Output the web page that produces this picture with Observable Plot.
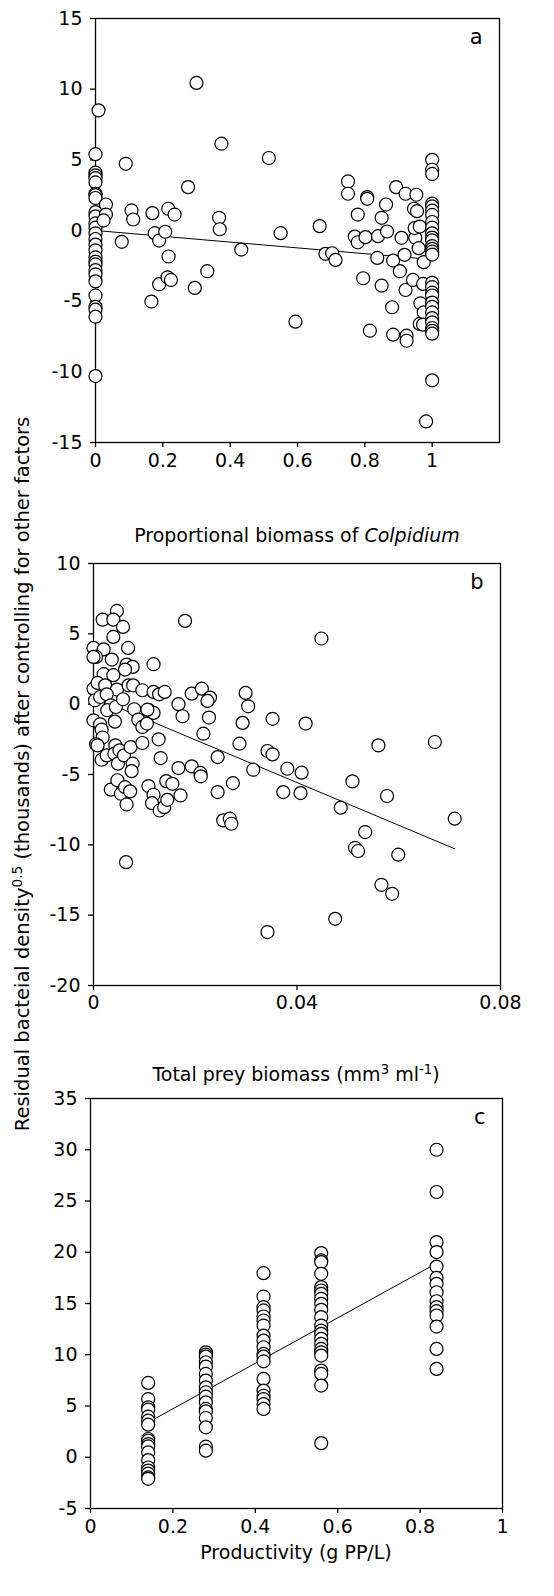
<!DOCTYPE html>
<html><head><meta charset="utf-8">
<script src="https://cdn.jsdelivr.net/npm/d3@7"></script>
<script src="https://cdn.jsdelivr.net/npm/@observablehq/plot@0.6"></script>
<style>
body{margin:0;background:#fff;}
#root{position:relative;width:554px;height:1596px;font-family:"DejaVu Sans",sans-serif;color:#000;overflow:hidden;}
.panel{position:absolute;left:0;}
.xlab{position:absolute;font-size:19px;line-height:1;white-space:nowrap;transform:translateX(-50%);}
.ylab{position:absolute;font-size:19.5px;line-height:1;white-space:nowrap;transform:translate(-50%,-50%) rotate(-90deg);}
sup{font-size:0.7em;line-height:0;vertical-align:0.5em;}
</style></head>
<body><div id="root"></div>
<script>
// ---------- Panel a: proportional biomass of Colpidium ----------
const aCol0Y = [5.4,4.1,3.9,3.7,3.4,2.6,2.5,2.3,1.3,1.0,0.5,0.2,-0.2,-0.6,-1.0,-1.4,-1.9,-2.2,-2.4,-2.8,-3.1,-3.6,-4.6,-5.4,-5.6,-6.1,-10.3];
const aCol1Y = [5.0,4.3,4.0,1.9,1.7,1.4,1.1,0.6,0.2,-0.2,-0.5,-0.7,-1.1,-1.3,-1.5,-1.7,-3.7,-4.0,-4.4,-4.6,-5.1,-5.4,-5.8,-6.2,-6.5,-6.9,-7.1,-7.3,-10.6];
const aScatter = [[0.009,8.5],[0.09,4.72],[0.031,1.84],[0.031,1.13],[0.024,0.71],[0.107,1.42],[0.112,0.78],[0.078,-0.8],[0.169,1.23],[0.176,-0.19],[0.189,-0.71],[0.207,-0.09],[0.216,1.54],[0.235,1.13],[0.217,-1.84],[0.189,-3.8],[0.214,-3.31],[0.224,-3.5],[0.166,-5.03],[0.275,3.07],[0.30,10.44],[0.295,-4.06],[0.332,-2.88],[0.367,0.9],[0.369,0.09],[0.374,6.14],[0.433,-1.35],[0.515,5.13],[0.55,-0.19],[0.594,-6.45],[0.666,0.31],[0.683,-1.65],[0.703,-1.61],[0.713,-2.08],[0.75,3.47],[0.75,2.6],[0.77,-0.43],[0.779,1.13],[0.779,-0.83],[0.802,-0.47],[0.807,2.36],[0.807,2.24],[0.795,-3.38],[0.815,-7.09],[0.839,-0.4],[0.837,-1.94],[0.85,0.9],[0.863,1.84],[0.866,-0.07],[0.85,-3.9],[0.881,-5.43],[0.884,-2.13],[0.884,-7.37],[0.893,3.07],[0.909,-0.52],[0.904,-2.88],[0.918,-1.72],[0.921,-4.21],[0.924,-7.44],[0.924,-7.8],[0.921,2.6],[0.943,-3.5],[0.946,1.54],[0.95,-0.52],[0.953,2.53],[0.955,1.37],[0.948,0.17],[0.96,-1.25],[0.963,0.28],[0.965,-5.15],[0.963,-6.61],[0.973,-3.78],[0.975,-5.79],[0.973,-6.66],[0.975,-2.24],[0.982,-13.51]];
const aLine = [[0,0],[1,-2.05]];
const aXTicks = [0,0.2,0.4,0.6,0.8,1];
const aYTicks = [-15,-10,-5,0,5,10,15];

// ---------- Panel b: total prey biomass ----------
const bScatter = [[0.0046,6.63],[0.0018,6.01],[0.0039,6.01],[0.0058,5.49],[0.0039,4.78],[0.018,5.92],[0.0448,4.67],[0.0,4.0],[0.002,3.9],[0.0005,3.36],[0.0,3.36],[0.0036,3.17],[0.0068,4.0],[0.0065,2.81],[0.0077,2.65],[0.0062,2.46],[0.0118,2.84],[0.002,2.13],[0.0039,2.06],[0.0,1.1],[0.0008,1.51],[0.0023,1.34],[0.0046,1.04],[0.0069,1.34],[0.0078,1.34],[0.0096,0.99],[0.0118,0.87],[0.0129,0.7],[0.014,0.87],[0.0193,0.75],[0.0213,1.1],[0.0229,0.47],[0.0224,0.23],[0.0299,0.8],[0.0304,-0.15],[0.0167,0.0],[0.0175,-0.86],[0.0227,-0.95],[0.0293,-1.33],[0.0352,-1.04],[0.0417,-1.38],[0.0216,-2.1],[0.0003,0.28],[0.0013,0.51],[0.0026,0.7],[0.0034,-0.08],[0.0027,-0.43],[0.0044,-0.2],[0.0058,0.35],[0.008,-0.36],[0.0088,-1.1],[0.0096,-1.62],[0.0105,-1.38],[0.0109,-0.43],[0.0118,-0.62],[0.0106,-0.39],[0.0042,-1.24],[0.0,-1.15],[0.0013,-1.43],[0.0016,-1.81],[0.0018,-2.37],[0.0005,-2.85],[0.0008,-2.93],[0.0016,-3.95],[0.0026,-3.64],[0.0043,-2.93],[0.0041,-3.52],[0.0051,-3.28],[0.0048,-4.23],[0.006,-3.64],[0.0073,-3.05],[0.0077,-4.23],[0.0075,-4.76],[0.0096,-2.76],[0.0128,-2.5],[0.0132,-3.83],[0.0034,-6.08],[0.0047,-5.41],[0.0054,-6.37],[0.0062,-5.9],[0.0072,-6.2],[0.0065,-7.13],[0.0064,-11.23],[0.0108,-5.82],[0.0118,-6.44],[0.0115,-7.04],[0.013,-7.56],[0.0139,-7.32],[0.0145,-6.8],[0.0143,-5.47],[0.0155,-5.66],[0.0167,-4.54],[0.0171,-6.49],[0.0193,-4.42],[0.021,-4.89],[0.0211,-5.13],[0.0244,-3.76],[0.0244,-6.25],[0.0255,-8.26],[0.0268,-8.14],[0.0271,-8.5],[0.0274,-5.61],[0.0287,-2.81],[0.0314,-4.66],[0.0342,-3.33],[0.0352,-3.57],[0.0342,-16.2],[0.0373,-6.25],[0.0381,-4.59],[0.0407,-6.32],[0.0409,-4.87],[0.0475,-15.26],[0.0486,-7.36],[0.0509,-5.49],[0.0514,-10.21],[0.052,-10.44],[0.0534,-9.09],[0.056,-2.93],[0.0577,-6.53],[0.0566,-12.84],[0.0587,-13.48],[0.0599,-10.7],[0.0671,-2.69],[0.071,-8.14]];
const bLine = [[0,0.5],[0.071,-10.28]];
const bXTicks = [0,0.04,0.08];
const bYTicks = [-20,-15,-10,-5,0,5,10];

// ---------- Panel c: productivity ----------
const cLevels = [0.14,0.28,0.42,0.56,0.84];
const cY014 = [7.25,5.68,4.87,4.64,3.96,3.57,3.18,1.78,1.61,1.29,1.06,0.47,-0.28,-1.0,-1.3,-1.6,-1.97,-2.1];
const cY028 = [10.24,10.02,9.82,9.27,8.84,8.13,7.48,6.82,6.34,5.91,5.36,4.71,4.48,3.83,2.92,1.03,0.64];
const cY042 = [17.96,15.68,14.64,14.32,13.73,13.34,12.85,11.87,11.38,10.73,10.08,9.82,9.36,7.64,6.5,6.0,5.68,5.19,4.71];
const cY056 = [19.92,19.2,19.04,17.9,16.6,16.27,15.94,15.46,14.97,14.38,13.67,12.85,12.36,12.04,11.55,11.06,10.57,10.24,9.92,8.45,8.13,6.99,1.38];
const cY084 = [30.0,25.88,20.99,20.02,18.6,17.5,16.92,16.1,15.22,14.64,14.25,13.83,12.75,10.57,8.62];
const cLine = [[0.14,3.4],[0.83,18.7]];
const cXTicks = [0,0.2,0.4,0.6,0.8,1];
const cYTicks = [-5,0,5,10,15,20,25,30,35];

const aPts = [
  ...aCol0Y.map(y => ({x: 0, y})),
  ...aScatter.map(([x, y]) => ({x, y})),
  ...aCol1Y.map(y => ({x: 1, y}))
];
const bPts = bScatter.map(([x, y]) => ({x, y}));
const cCols = [cY014, cY028, cY042, cY056, cY084];
const cPts = cCols.flatMap((ys, i) => ys.map(y => ({x: cLevels[i], y})));
const toObj = arr => arr.map(([x, y]) => ({x, y}));

function panel(o) {
  return Plot.plot({
    width: 554, height: o.h,
    marginLeft: o.ml, marginRight: o.mr, marginTop: o.mt, marginBottom: o.mb,
    style: {fontFamily: "DejaVu Sans", fontSize: "19px", color: "black", background: "transparent", overflow: "visible"},
    x: {domain: o.xDomain},
    y: {domain: o.yDomain},
    marks: [
      Plot.frame({stroke: "black", strokeWidth: 1.3}),
      Plot.axisX({ticks: o.xTicks, tickFormat: d => String(d), tickSize: 5, tickPadding: o.xPad, label: null, strokeWidth: 1.3, fontSize: 19}),
      Plot.axisY({ticks: o.yTicks, tickFormat: d => String(d), tickSize: 5, tickPadding: 8, label: null, strokeWidth: 1.3, fontSize: 19}),
      Plot.line(toObj(o.line), {x: "x", y: "y", stroke: "black", strokeWidth: 1}),
      Plot.dot(o.pts, {x: "x", y: "y", r: 6.5, fill: "white", stroke: "black", strokeWidth: 1.2}),
      Plot.text([o.letter], {text: d => d, frameAnchor: "top-right", textAnchor: "end", lineAnchor: "top", dx: -17, dy: 11, fontSize: 21})
    ]
  });
}

const root = document.getElementById("root");
function place(node, top) {
  const d = document.createElement("div");
  d.className = "panel";
  d.style.top = top + "px";
  d.appendChild(node);
  root.appendChild(d);
}
place(panel({h: 470, ml: 95, mr: 55, mt: 18, mb: 28, xDomain: [0, 1.2], yDomain: [-15, 15], xTicks: aXTicks, yTicks: aYTicks, xPad: 6, line: aLine, pts: aPts, letter: "a"}), 0);
place(panel({h: 470, ml: 93, mr: 54, mt: 18, mb: 30, xDomain: [0, 0.08], yDomain: [-20, 10], xTicks: bXTicks, yTicks: bYTicks, xPad: 5, line: bLine, pts: bPts, letter: "b"}), 545);
place(panel({h: 460, ml: 90, mr: 52, mt: 18, mb: 32, xDomain: [0, 1], yDomain: [-5, 35], xTicks: cXTicks, yTicks: cYTicks, xPad: 6, line: cLine, pts: cPts, letter: "c"}), 1080);

function label(html, cls, left, top) {
  const d = document.createElement("div");
  d.className = cls;
  d.style.left = left + "px";
  d.style.top = top + "px";
  d.innerHTML = html;
  root.appendChild(d);
}
label("Proportional biomass of <i>Colpidium</i>", "xlab", 297, 525.5);
label("Total prey biomass (mm<sup>3</sup> ml<sup>-1</sup>)", "xlab", 296, 1064.5);
label("Productivity (g PP/L)", "xlab", 296, 1543);
label("Residual bacteial density<sup>0.5</sup> (thousands) after controlling for other factors", "ylab", 23, 774);
</script></body></html>
